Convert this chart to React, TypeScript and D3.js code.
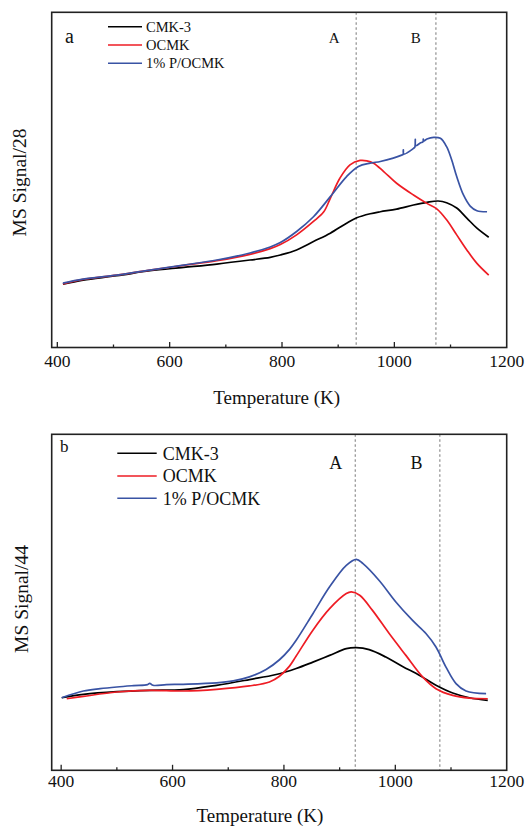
import React from "react";
import * as d3 from "d3";

type Pt = [number, number];

// ---------- data (temperature K, MS signal in arbitrary units) ----------
const seriesNames = ["CMK-3", "OCMK", "1% P/OCMK"];
const seriesColors = ["#000000", "#ee1c24", "#3953a4"];

const majorTicks = [400, 600, 800, 1000, 1200];
const minorTicks = [500, 700, 900, 1100];

// Panel a: MS signal m/z = 28
const a_CMK3: Pt[] = [
  [410, 18.9], [446, 20.1], [506, 21.4], [565, 22.9], [625, 23.9], [684, 24.9], [743, 26.1],
  [779, 26.9], [797, 27.6], [826, 29.1], [856, 31.6], [886, 34.1], [915, 37.1], [933, 38.7],
  [957, 39.9], [975, 40.5], [1004, 41.3], [1034, 42.5], [1058, 43.3], [1078, 43.7], [1093, 43.2],
  [1111, 41.6], [1129, 38.6], [1147, 35.6], [1168, 32.9],
];
const a_OCMK: Pt[] = [
  [410, 19.0], [446, 20.3], [506, 21.6], [565, 23.1], [625, 24.5], [684, 25.9], [743, 27.8],
  [779, 29.5], [797, 30.7], [826, 33.6], [856, 37.6], [874, 40.4], [886, 44.5], [903, 50.5],
  [921, 54.5], [939, 55.8], [951, 55.7], [963, 55.0], [981, 52.5], [1004, 49.0], [1034, 45.5],
  [1058, 43.0], [1076, 41.3], [1093, 38.1], [1111, 33.6], [1129, 29.1], [1147, 25.1], [1168, 21.6],
];
const a_P: Pt[] = [
  [410, 19.2], [446, 20.4], [506, 21.6], [565, 23.1], [625, 24.6], [684, 26.1], [743, 28.2],
  [779, 30.0], [797, 31.3], [826, 34.6], [856, 39.0], [886, 45.0], [915, 51.0], [936, 54.0],
  [957, 55.0], [975, 55.5], [998, 56.5], [1013, 57.4], [1015.5, 57.6], [1016, 59.0], [1016.6, 57.7],
  [1034, 59.4], [1036.5, 59.8], [1037.3, 62.1], [1038, 60.2], [1046, 61.0], [1051, 61.4],
  [1051.5, 62.2], [1052, 61.6], [1058, 62.2], [1070, 62.7], [1082, 62.4], [1093, 59.9],
  [1102, 56.0], [1111, 51.0], [1123, 45.5], [1135, 42.2], [1147, 40.8], [1165, 40.5],
];
const a_refLines = [932, 1074];
const a_refLabels = ["A", "B"];
const a_refLabelT = [893, 1038];

// Panel b: MS signal m/z = 44
const b_CMK3: Pt[] = [
  [401, 21.6], [440, 22.6], [500, 23.4], [559, 23.8], [619, 24.0], [679, 25.3], [738, 27.0],
  [786, 28.5], [822, 30.3], [852, 32.2], [882, 34.2], [912, 36.2], [930, 36.5],
  [953, 35.9], [983, 33.7], [1013, 30.9], [1043, 28.3], [1073, 25.3], [1103, 23.0], [1133, 21.6],
  [1166, 20.8],
];
const b_OCMK: Pt[] = [
  [410, 21.3], [440, 22.0], [500, 23.3], [559, 23.8], [619, 23.6], [679, 24.1], [738, 25.1],
  [774, 26.3], [792, 28.0], [810, 31.0], [822, 34.0], [852, 41.7], [882, 48.1],
  [912, 52.6], [921, 53.1], [936, 52.1], [959, 47.6], [989, 40.7], [1019, 34.2], [1049, 27.8],
  [1073, 24.3], [1103, 22.3], [1133, 21.5], [1166, 21.3],
];
const b_P: Pt[] = [
  [401, 21.6], [440, 23.6], [470, 24.3], [500, 24.8], [530, 25.2], [555, 25.5], [559, 25.9],
  [565, 25.3], [589, 25.5], [619, 25.6], [679, 26.0], [709, 26.6], [738, 27.8], [768, 30.0],
  [792, 32.9], [810, 36.0], [822, 38.7], [852, 46.6], [882, 54.6], [912, 61.0],
  [930, 62.8], [942, 61.5], [971, 56.5], [1001, 50.1], [1031, 44.6], [1055, 40.7], [1073, 36.7],
  [1091, 30.7], [1109, 25.8], [1127, 23.6], [1163, 22.8],
];
const b_refLines = [928, 1080];
const b_refLabels = ["A", "B"];
const b_refLabelT = [893, 1038];

// ---------- rendering ----------
const FONT = "'Liberation Serif', 'Times New Roman', serif";

type PanelProps = {
  series: Pt[][];
  xDomain: [number, number];
  left: number; right: number; top: number; bottom: number;
  tag: string; tagX: number; tagY: number; tagSize: number;
  legX0: number; legX1: number; legTextX: number; legY: number[]; legSize: number;
  refLines: number[]; refLabels: string[]; refLabelT: number[]; refY: number; refSize: number;
  tickLabelY: number; xTitleX: number; xTitleY: number;
  yTitle: string; yTitleX: number; yTitleY: number;
};

function Panel(p: PanelProps) {
  const x = d3.scaleLinear().domain(p.xDomain).range([p.left, p.right]);
  const y = d3.scaleLinear().domain([0, 100]).range([p.bottom, p.top]);
  const line = d3
    .line<Pt>()
    .x((d) => x(d[0]))
    .y((d) => y(d[1]))
    .curve(d3.curveCatmullRom.alpha(0.5));

  return (
    <g>
      {p.refLines.map((t, i) => (
        <line key={"r" + i} x1={x(t)} x2={x(t)} y1={p.top} y2={p.bottom}
          stroke="#777" strokeWidth={1} strokeDasharray="2.5,2.5" />
      ))}
      {p.refLabels.map((s, i) => (
        <text key={"rl" + i} x={x(p.refLabelT[i])} y={p.refY} fontSize={p.refSize}
          textAnchor="middle" fontFamily={FONT} fill="#111">{s}</text>
      ))}
      {p.series.map((s, i) => (
        <path key={"s" + i} d={line(s) || ""} fill="none" stroke={seriesColors[i]}
          strokeWidth={1.7} strokeLinejoin="round" />
      ))}
      <rect x={p.left} y={p.top} width={p.right - p.left} height={p.bottom - p.top}
        fill="none" stroke="#222" strokeWidth={1.6} />
      {majorTicks.filter((t) => t < p.xDomain[1]).map((t) => (
        <line key={"mt" + t} x1={x(t)} x2={x(t)} y1={p.bottom} y2={p.bottom - 5.5}
          stroke="#222" strokeWidth={1.3} />
      ))}
      {minorTicks.map((t) => (
        <line key={"nt" + t} x1={x(t)} x2={x(t)} y1={p.bottom} y2={p.bottom - 3}
          stroke="#222" strokeWidth={1.3} />
      ))}
      {majorTicks.map((t) => (
        <text key={"tl" + t} x={x(t)} y={p.tickLabelY} fontSize={17.5} textAnchor="middle"
          fontFamily={FONT} fill="#111">{t}</text>
      ))}
      <text x={p.xTitleX} y={p.xTitleY} fontSize={19} textAnchor="middle" fontFamily={FONT}
        fill="#111">Temperature (K)</text>
      <text transform={`translate(${p.yTitleX},${p.yTitleY}) rotate(-90)`} fontSize={19.5}
        textAnchor="middle" fontFamily={FONT} fill="#111">{p.yTitle}</text>
      <text x={p.tagX} y={p.tagY} fontSize={p.tagSize} fontFamily={FONT} fill="#111">{p.tag}</text>
      {seriesNames.map((n, i) => (
        <g key={"lg" + i}>
          <line x1={p.legX0} x2={p.legX1} y1={p.legY[i]} y2={p.legY[i]}
            stroke={seriesColors[i]} strokeWidth={1.6} />
          <text x={p.legTextX} y={p.legY[i]} dy="0.35em" fontSize={p.legSize}
            fontFamily={FONT} fill="#111">{n}</text>
        </g>
      ))}
    </g>
  );
}

export default function App() {
  return (
    <svg width={527} height={828} style={{ position: "absolute", left: 0, top: 0, display: "block", background: "#fff" }}>
      <Panel
        series={[a_CMK3, a_OCMK, a_P]}
        xDomain={[390, 1200]}
        left={51.7} right={506.7} top={12.3} bottom={347.5}
        tag="a" tagX={65} tagY={43} tagSize={20}
        legX0={108} legX1={142} legTextX={146} legY={[26.7, 45, 63.3]} legSize={14.5}
        refLines={a_refLines} refLabels={a_refLabels} refLabelT={a_refLabelT} refY={43} refSize={15}
        tickLabelY={367} xTitleX={276.7} xTitleY={404}
        yTitle="MS Signal/28" yTitleX={26} yTitleY={182.5}
      />
      <Panel
        series={[b_CMK3, b_OCMK, b_P]}
        xDomain={[383, 1200]}
        left={51.7} right={506.7} top={434.3} bottom={770.3}
        tag="b" tagX={60} tagY={452} tagSize={17}
        legX0={117.3} legX1={156.7} legTextX={162.7} legY={[453.3, 476, 498.3]} legSize={18}
        refLines={b_refLines} refLabels={b_refLabels} refLabelT={b_refLabelT} refY={469} refSize={18}
        tickLabelY={786.7} xTitleX={260} xTitleY={822}
        yTitle="MS Signal/44" yTitleX={28} yTitleY={599}
      />
    </svg>
  );
}
